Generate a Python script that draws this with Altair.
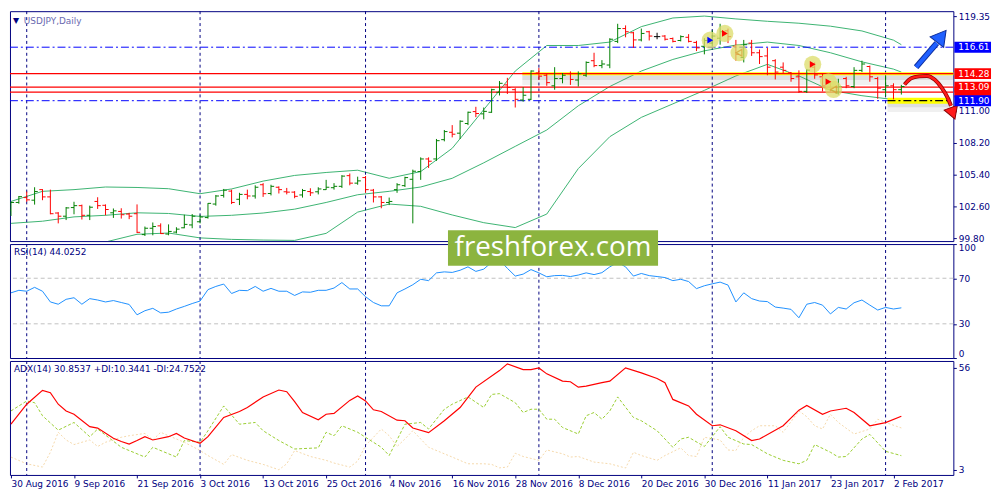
import altair as alt
import pandas as pd

NAVY = "#000080"
FONT = "DejaVu Sans"

# ---------------- data ----------------
dates = pd.bdate_range("2016-08-30", "2017-02-03")  # 114 daily bars
idx = list(range(len(dates)))

date_labels = ["30 Aug 2016", "9 Sep 2016", "21 Sep 2016", "3 Oct 2016", "13 Oct 2016",
               "25 Oct 2016", "4 Nov 2016", "16 Nov 2016", "28 Nov 2016", "8 Dec 2016",
               "20 Dec 2016", "30 Dec 2016", "11 Jan 2017", "23 Jan 2017", "2 Feb 2017"]
label_idx = [0, 8, 16, 24, 32, 40, 48, 56, 64, 72, 80, 88, 96, 104, 112]
grid_idx = [2, 24, 45, 67, 89, 111]
price_ticks = [99.80, 102.60, 105.40, 108.20, 111.00, 119.35]
rsi_ticks = [0, 30, 70, 100]
adx_ticks = [3, 56]

open_ = [102.26, 102.94, 103.37, 103.14, 104.07, 103.43, 102.01, 101.73, 102.49, 102.66,
         101.81, 103.03, 102.69, 102.03, 102.15, 101.92, 101.95, 100.11, 100.67, 100.88,
         100.16, 100.33, 100.71, 100.96, 101.24, 101.61, 102.80, 103.56, 103.94, 103.22,
         103.65, 103.51, 104.50, 103.73, 104.28, 103.88, 103.85, 103.60, 103.90, 103.88,
         104.07, 104.24, 104.36, 105.30, 104.64, 105.13, 104.02, 103.43, 102.94, 104.07,
         104.42, 104.98, 105.66, 106.77, 106.77, 108.47, 109.12, 109.04, 109.89, 110.94,
         110.74, 110.88, 112.64, 113.29, 112.87, 111.96, 112.02, 114.34, 114.14, 113.21,
         113.85, 114.28, 113.72, 114.14, 115.42, 114.99, 115.04, 117.12, 118.25, 117.88,
         117.25, 117.97, 117.54, 117.59, 117.37, 117.20, 117.48, 117.03, 116.69, 116.97,
         117.40, 118.05, 116.69, 115.70, 116.97, 116.12, 115.84, 115.42, 114.85, 114.36,
         114.00, 112.72, 114.85, 114.00, 113.43, 112.58, 113.85, 113.15, 114.57, 114.91,
         113.85, 112.87, 113.21, 112.87]
high = [103.02, 103.51, 103.90, 104.28, 104.11, 104.07, 102.09, 102.54, 103.00, 102.75,
        102.66, 103.40, 102.77, 102.41, 102.43, 102.03, 102.77, 100.82, 101.18, 101.10,
        101.01, 100.76, 101.86, 101.92, 101.86, 102.88, 103.60, 104.13, 104.07, 103.79,
        104.07, 104.45, 104.64, 104.50, 104.36, 104.22, 103.94, 104.13, 104.19, 104.28,
        104.93, 104.64, 105.35, 105.49, 105.21, 105.27, 104.13, 103.51, 103.37, 104.64,
        105.21, 105.83, 106.91, 106.91, 108.53, 109.32, 109.75, 110.17, 110.94, 111.36,
        111.30, 112.95, 113.63, 113.91, 113.00, 113.09, 114.57, 114.79, 114.28, 114.85,
        114.34, 114.48, 114.48, 115.36, 116.12, 115.47, 117.40, 118.67, 118.53, 117.97,
        118.25, 118.05, 117.88, 117.68, 117.46, 117.65, 117.76, 117.17, 117.40, 118.10,
        118.67, 118.25, 117.25, 117.25, 117.25, 116.40, 116.55, 115.55, 115.27, 114.42,
        114.57, 114.70, 115.27, 114.28, 113.57, 113.83, 114.00, 114.85, 115.42, 114.99,
        114.00, 114.14, 113.43, 113.29]
low = [101.75, 102.83, 103.00, 102.75, 103.14, 101.90, 101.10, 101.39, 101.90, 101.44,
       101.39, 102.37, 101.81, 101.58, 101.52, 101.47, 100.25, 99.99, 100.05, 100.16,
       100.05, 100.22, 100.67, 100.67, 101.10, 101.52, 102.66, 103.37, 102.80, 102.71,
       103.22, 103.28, 103.43, 103.56, 103.73, 103.65, 103.31, 103.37, 103.51, 103.65,
       104.05, 104.07, 104.22, 104.45, 104.50, 103.79, 102.94, 102.43, 102.71, 103.79,
       104.30, 101.10, 104.93, 105.98, 106.60, 108.32, 108.67, 108.53, 109.75, 110.45,
       110.26, 110.83, 112.36, 112.49, 111.30, 111.81, 111.96, 113.72, 113.21, 112.87,
       113.43, 113.29, 113.15, 114.00, 114.85, 114.76, 114.76, 116.97, 117.48, 116.55,
       117.12, 117.20, 117.31, 117.20, 117.03, 117.12, 117.03, 116.27, 115.98, 116.69,
       116.83, 116.97, 115.42, 115.27, 115.84, 115.13, 114.14, 113.77, 114.28, 113.57,
       112.58, 112.58, 113.83, 112.72, 112.72, 112.44, 113.00, 113.00, 114.42, 113.57,
       112.07, 112.30, 112.02, 112.44]
close = [102.94, 103.45, 103.17, 103.90, 103.43, 101.95, 101.73, 102.46, 102.66, 101.81,
         102.52, 102.66, 102.32, 102.20, 101.86, 101.73, 100.31, 100.67, 100.82, 100.20,
         100.39, 100.59, 101.01, 101.73, 101.66, 102.86, 103.51, 104.02, 102.94, 103.65,
         103.51, 104.28, 103.71, 104.36, 104.07, 103.85, 103.48, 103.99, 103.79, 104.13,
         104.28, 104.36, 105.26, 104.64, 104.84, 104.07, 103.43, 102.94, 103.03, 104.50,
         105.13, 105.69, 106.77, 106.57, 108.38, 109.18, 108.95, 110.09, 110.88, 110.77,
         110.96, 112.87, 113.43, 113.06, 112.02, 112.38, 114.51, 114.06, 113.49, 113.85,
         114.14, 113.77, 114.28, 115.27, 114.99, 115.13, 117.31, 118.25, 117.97, 117.25,
         117.82, 117.59, 117.54, 117.31, 117.12, 117.54, 117.12, 116.55, 117.20, 117.59,
         117.97, 117.54, 115.98, 116.83, 116.12, 115.78, 114.85, 114.42, 114.57, 113.85,
         112.72, 114.59, 114.17, 113.21, 113.00, 113.15, 113.21, 114.57, 115.13, 114.00,
         113.00, 113.21, 112.87, 113.15]

band_idx = [0, 4, 8, 12, 16, 20, 24, 28, 32, 36, 40, 44, 48, 52, 56, 60, 64, 68, 72, 76,
            80, 84, 88, 92, 96, 100, 104, 108, 112, 113]
bb_upper = [103.03, 103.92, 104.07, 104.30, 104.26, 104.15, 103.71, 104.13, 104.82, 105.32,
            105.58, 105.78, 105.07, 105.66, 107.71, 111.11, 114.51, 116.76, 116.76, 117.06,
            118.42, 119.18, 119.35, 119.10, 118.89, 118.72, 118.46, 118.04, 117.23, 116.83]
bb_mid = [101.10, 101.29, 101.67, 101.81, 102.03, 101.97, 101.71, 101.81, 102.01, 102.35,
          102.94, 103.62, 103.92, 104.30, 105.07, 106.43, 107.88, 109.32, 111.45, 113.15,
          114.51, 115.53, 116.29, 116.80, 117.06, 116.76, 116.12, 115.32, 114.68, 114.42]
bb_lower = [99.12, 99.12, 99.20, 99.46, 100.14, 100.25, 99.82, 99.69, 99.63, 99.60,
            100.22, 102.09, 102.80, 102.60, 101.84, 101.16, 100.73, 101.92, 105.92, 108.73,
            110.43, 111.62, 112.81, 114.08, 115.10, 114.08, 112.81, 112.34, 112.00, 111.91]

rsi = [57.2, 59.4, 58.6, 62.0, 58.6, 49.2, 47.2, 51.5, 52.9, 47.2,
       52.1, 50.9, 49.2, 50.4, 48.7, 47.0, 37.9, 41.5, 43.6, 39.6,
       40.2, 43.0, 45.3, 47.8, 50.0, 60.0, 62.8, 64.9, 56.6, 59.4,
       59.1, 62.8, 58.6, 61.1, 58.6, 58.6, 54.9, 58.0, 57.7, 59.4,
       59.4, 61.4, 66.2, 60.6, 60.6, 53.8, 48.7, 45.8, 45.8, 57.2,
       60.6, 64.3, 69.1, 67.9, 74.7, 75.6, 75.1, 77.0, 80.0, 76.0,
       78.0, 84.0, 86.0, 78.7, 71.9, 73.6, 77.6, 74.7, 71.3, 72.3,
       72.5, 71.5, 72.8, 74.7, 73.2, 74.9, 80.0, 84.0, 80.0, 71.9,
       74.2, 72.3, 71.5, 70.6, 67.9, 69.1, 67.1, 60.9, 63.4, 65.1,
       66.6, 64.0, 49.2, 57.2, 52.1, 50.0, 49.5, 44.7, 43.8, 42.7,
       35.3, 47.2, 48.7, 46.4, 38.7, 44.4, 43.0, 48.5, 50.9, 46.4,
       42.1, 44.4, 43.0, 44.03]

adx_i = [0, 2, 4, 5, 6, 7, 8, 10, 11, 13, 14, 15, 16, 17, 18, 20, 21, 22, 24, 25,
         27, 29, 30, 32, 34, 35, 36, 37, 39, 40, 41, 43, 44, 45, 46, 47, 49, 50, 51, 53,
         55, 57, 59, 62, 63, 65, 66, 67, 68, 70, 71, 72, 73, 75, 76, 78, 80, 82, 83, 84,
         86, 87, 89, 90, 92, 94, 95, 98, 100, 101, 103, 104, 106, 107, 109, 111, 113]
adx_v = [26.7, 37.1, 44.3, 43.1, 37.1, 33.6, 31.9, 25.4, 24.7, 19.4, 17.7, 16.4, 18.2, 20.2, 18.5, 20.2, 21.9, 19.5, 16.8, 20.2,
         30.2, 33.3, 35.4, 40.9, 44.5, 43.6, 38.4, 32.8, 29.0, 31.9, 32.3, 39.1, 41.4, 38.8, 34.2, 33.3, 28.8, 28.5, 24.7, 22.3,
         28.5, 35.4, 46.0, 54.6, 58.1, 55.1, 55.1, 56.0, 52.9, 49.1, 48.8, 46.0, 46.5, 48.3, 49.1, 56.0, 53.4, 50.5, 48.3, 39.6,
         36.2, 31.9, 25.9, 26.4, 23.3, 18.2, 19.0, 25.9, 34.0, 36.5, 31.9, 33.6, 35.0, 32.8, 25.9, 27.5, 30.85]
pdi_i = [0, 2, 3, 4, 6, 8, 10, 11, 14, 17, 18, 21, 22, 24, 25, 27, 29, 31, 32, 34,
         36, 39, 40, 41, 42, 44, 45, 47, 48, 50, 52, 53, 55, 56, 58, 60, 61, 62, 64, 65,
         66, 67, 68, 69, 70, 72, 73, 74, 75, 76, 77, 79, 80, 82, 84, 85, 86, 88, 90, 91,
         93, 94, 96, 98, 100, 101, 102, 104, 105, 106, 108, 109, 111, 113]
pdi_v = [33.6, 38.8, 37.9, 31.1, 23.6, 27.6, 20.2, 24.2, 14.7, 9.6, 14.7, 9.6, 18.2, 17.3, 23.3, 36.2, 26.7, 27.6, 23.3, 18.2,
         13.8, 14.4, 22.5, 20.7, 25.9, 22.5, 19.9, 14.7, 10.4, 26.7, 27.6, 24.2, 34.5, 37.1, 40.9, 35.4, 42.2, 42.6, 37.9, 32.8,
         34.5, 34.5, 29.3, 29.3, 25.0, 21.6, 31.1, 32.8, 29.3, 33.6, 40.9, 30.2, 28.5, 23.3, 14.7, 19.0, 19.9, 15.1, 25.4, 19.9,
         16.4, 16.1, 11.3, 7.9, 6.1, 7.9, 16.1, 12.1, 9.6, 9.9, 19.0, 21.4, 12.6, 10.34]
mdi_i = [0, 2, 4, 5, 6, 7, 8, 10, 11, 12, 14, 15, 17, 18, 19, 20, 22, 24, 25, 27,
         28, 30, 32, 34, 35, 36, 38, 40, 41, 43, 44, 45, 47, 48, 49, 50, 51, 53, 56, 58,
         60, 61, 62, 63, 64, 65, 67, 68, 70, 71, 72, 74, 76, 78, 79, 80, 82, 83, 85, 86,
         87, 88, 90, 91, 92, 93, 94, 95, 97, 98, 100, 101, 102, 103, 104, 105, 107, 109, 110, 111, 113]
mdi_v = [9.6, 6.1, 4.4, 12.1, 22.5, 18.5, 16.1, 18.5, 15.1, 17.3, 19.9, 20.7, 21.9, 18.5, 22.5, 20.7, 17.3, 13.0, 10.4, 5.8,
         10.9, 7.9, 5.8, 3.0, 6.1, 13.0, 9.9, 7.9, 6.5, 4.4, 7.5, 15.6, 24.2, 20.7, 15.1, 19.0, 23.3, 14.7, 9.6, 6.1,
         6.1, 5.8, 4.0, 4.4, 11.6, 9.9, 7.9, 13.3, 11.3, 9.6, 9.9, 7.0, 6.1, 3.9, 12.1, 10.4, 7.9, 10.4, 14.4, 10.4,
         9.9, 19.9, 18.5, 13.3, 13.0, 19.9, 23.3, 25.9, 25.9, 22.5, 33.6, 30.6, 25.9, 24.2, 31.9, 27.6, 21.6, 24.2, 29.3, 27.6, 24.75]

# annotation data (bar index, price)
circle_i = [88.75, 90.6, 92.4, 101.75, 103.75, 104.4]
circle_p = [117.23, 117.82, 116.12, 115.10, 113.57, 112.89]
blue_arrow_i = [114.875, 117.5]
blue_arrow_p = [114.85, 116.97]
red_curve_i = [113.4, 114.25, 115.25, 116.25, 117.25, 118.1, 118.9, 119.3]
red_curve_p = [113.32, 113.87, 114.04, 114.08, 113.74, 113.06, 112.13, 111.45]

# ---------------- layout / scales ----------------
W, H1, H2, H3 = 952, 232, 115, 115
xs = alt.Scale(domain=[-0.125, 119.6], nice=False, zero=False)
ps = alt.Scale(domain=[99.54, 119.78], nice=False, zero=False)
rs = alt.Scale(domain=[0, 100], nice=False, zero=False)
ads = alt.Scale(domain=[0.3, 59.6], nice=False, zero=False)

price_axis = alt.Axis(orient="right", values=price_ticks, format=".2f", tickSize=3, labelPadding=2,
                      domain=False, grid=False, title=None)
rsi_axis = alt.Axis(orient="right", values=rsi_ticks, tickSize=3, labelPadding=2, domain=False,
                    grid=False, title=None, labelFlush=True)
adx_axis = alt.Axis(orient="right", values=adx_ticks, tickSize=3, labelPadding=2, domain=False,
                    grid=False, title=None)
expr = "[" + ",".join(f"'{s}'" for s in date_labels) + "][round(datum.value / 8)]"
x_axis = alt.Axis(values=label_idx, labelExpr=expr, labelAlign="left", tickSize=3, labelPadding=2,
                  domain=False, grid=False, title=None, labelOverlap=False, labelFlush=False)


def PX(f="i"):
    return alt.X(f"{f}:Q", scale=xs, axis=None)


def AX(f="i"):
    return alt.X(f"{f}:Q", scale=xs, axis=x_axis)


def PY(f="p"):
    return alt.Y(f"{f}:Q", scale=ps, axis=price_axis)


def RY(f="v"):
    return alt.Y(f"{f}:Q", scale=rs, axis=rsi_axis)


def DY(f="v"):
    return alt.Y(f"{f}:Q", scale=ads, axis=adx_axis)


vgrid_df = pd.DataFrame({"i": grid_idx})


def vgrid(xenc):
    return alt.Chart(vgrid_df).mark_rule(color=NAVY, strokeDash=[3, 3], strokeWidth=1).encode(x=xenc)


# ---------------- price panel ----------------
ohlc = pd.DataFrame({"i": idx, "o": open_, "h": high, "l": low, "c": close})
ohlc["dir"] = ["up" if c > o else ("down" if c < o else "flat") for o, c in zip(open_, close)]
ohlc["xo"] = ohlc["i"] - 0.4
ohlc["xc"] = ohlc["i"] + 0.4
bar_col = alt.Color("dir:N", scale=alt.Scale(domain=["up", "down", "flat"],
                                              range=["#008000", "#ff0000", "#000000"]), legend=None)

bands = pd.concat([
    pd.DataFrame({"i": band_idx, "p": bb_upper, "band": "upper"}),
    pd.DataFrame({"i": band_idx, "p": bb_mid, "band": "mid"}),
    pd.DataFrame({"i": band_idx, "p": bb_lower, "band": "lower"}),
])
band_layer = alt.Chart(bands).mark_line(color="#3cb371", strokeWidth=1, clip=True).encode(
    x=PX(), y=PY(), detail="band:N")

blue_lv = pd.DataFrame({"p": [116.61, 111.90], "x0": [-0.125, -0.125], "x1": [119.6, 111.25]})
red_lv = pd.DataFrame({"p": [114.28, 113.09, 112.66]})
yel_lv = pd.DataFrame({"p": [114.28, 111.90], "x0": [64.9, 111.25], "x1": [119.6, 119.25], "w": [3, 6]})
blk_lv = pd.DataFrame({"p": [111.90], "x0": [111.25], "x1": [119.25]})

shadow1 = alt.Chart(yel_lv).mark_rule(color="#707070", opacity=0.10, strokeWidth=11, yOffset=6).encode(
    x=PX("x0"), x2="x1:Q", y=PY())
shadow2 = alt.Chart(yel_lv).mark_rule(color="#707070", opacity=0.14, strokeWidth=5, yOffset=4).encode(
    x=PX("x0"), x2="x1:Q", y=PY())
yellow = alt.Chart(yel_lv).mark_rule(color="#ffff00").encode(
    x=PX("x0"), x2="x1:Q", y=PY(), strokeWidth=alt.StrokeWidth("w:Q", scale=None))
blue_rules = alt.Chart(blue_lv).mark_rule(color="#0000ff", strokeDash=[8, 3, 2, 3], strokeWidth=1).encode(
    x=PX("x0"), x2="x1:Q", y=PY())
blk_rule = alt.Chart(blk_lv).mark_rule(color="#000000", strokeDash=[8, 3, 2, 3], strokeWidth=1.3).encode(
    x=PX("x0"), x2="x1:Q", y=PY())
red_rules = alt.Chart(red_lv).mark_rule(color="#ff0000", strokeWidth=1.2).encode(y=PY())

hl = alt.Chart(ohlc).mark_rule(strokeWidth=1, clip=True).encode(x=PX(), y=PY("l"), y2="h:Q", color=bar_col)
otick = alt.Chart(ohlc).mark_rule(strokeWidth=1, clip=True).encode(
    x=PX("xo"), x2="i:Q", y=PY("o"), color=bar_col)
ctick = alt.Chart(ohlc).mark_rule(strokeWidth=1, clip=True).encode(
    x=PX("i"), x2="xc:Q", y=PY("c"), color=bar_col)

circ = pd.DataFrame({"i": circle_i, "p": circle_p,
                     "kind": ["buy", "sell", "exit", "sell", "sell", "exit"]})
circles = alt.Chart(circ).mark_circle(size=300, color="#dcdc6a", opacity=0.75).encode(x=PX(), y=PY())
m_sell = alt.Chart(circ[circ.kind == "sell"]).mark_point(shape="triangle-right", filled=True, size=45,
                                                        color="#ff0000", opacity=1).encode(x=PX(), y=PY())
m_buy = alt.Chart(circ[circ.kind == "buy"]).mark_point(shape="triangle-right", filled=True, size=45,
                                                      color="#0000ff", opacity=1).encode(x=PX(), y=PY())
m_exit = alt.Chart(circ[circ.kind == "exit"]).mark_point(shape="triangle-left", filled=False, size=45,
                                                        color="#d4a030", strokeWidth=1.3).encode(x=PX(), y=PY())

barrow = pd.DataFrame({"i": blue_arrow_i, "p": blue_arrow_p})
blue_shaft_o = alt.Chart(barrow).mark_line(color="#0a2a9a", strokeWidth=6, clip=False).encode(x=PX(), y=PY())
blue_shaft = alt.Chart(barrow).mark_line(color="#2060ff", strokeWidth=4, clip=False).encode(x=PX(), y=PY())
blue_head = alt.Chart(pd.DataFrame({"i": [117.9], "p": [117.40]})).mark_point(
    shape="triangle", filled=True, size=300, angle=38, color="#2060ff", stroke="#0a2a9a",
    strokeWidth=1, opacity=1, clip=False).encode(x=PX(), y=PY())

rcurve = pd.DataFrame({"i": red_curve_i, "p": red_curve_p})
red_curve_o = alt.Chart(rcurve).mark_line(color="#8a0000", strokeWidth=4, interpolate="monotone",
                                          clip=False).encode(x=PX(), y=PY())
red_curve = alt.Chart(rcurve).mark_line(color="#ff1a1a", strokeWidth=2.5, interpolate="monotone",
                                        clip=False).encode(x=PX(), y=PY())
red_head = alt.Chart(pd.DataFrame({"i": [119.45], "p": [110.95]})).mark_point(
    shape="triangle", filled=True, size=200, angle=160, color="#ff1a1a", stroke="#8a0000",
    strokeWidth=1, opacity=1, clip=False).encode(x=PX(), y=PY())

box_hidden = pd.DataFrame({"p": [112.66], "fill": ["#ff0000"]})
box_vis = pd.DataFrame({"p": [116.61, 114.28, 113.09, 111.90],
                        "fill": ["#0000ff", "#ff0000", "#ff0000", "#0000ff"],
                        "t": ["116.61", "114.28", "113.09", "111.90"]})

hid_rect = alt.Chart(box_hidden).mark_rect(clip=False, yOffset=-5.5, y2Offset=5.5).encode(
    x=alt.value(953), x2=alt.value(990), y=PY(), y2="p:Q", fill=alt.Fill("fill:N", scale=None))
vis_rect = alt.Chart(box_vis).mark_rect(clip=False, yOffset=-5.5, y2Offset=5.5).encode(
    x=alt.value(953), x2=alt.value(990), y=PY(), y2="p:Q", fill=alt.Fill("fill:N", scale=None))
vis_txt = alt.Chart(box_vis).mark_text(clip=False, align="left", baseline="middle", font=FONT, fontSize=9,
                                       color="white").encode(x=alt.value(957), y=PY(), text="t:N")

tri = alt.Chart(pd.DataFrame({"t": ["\u25bc"]})).mark_text(align="left", baseline="middle", font=FONT,
                                                          fontSize=8, color=NAVY).encode(
    x=alt.value(3), y=alt.value(10), text="t:N")
ttl = alt.Chart(pd.DataFrame({"t": ["USDJPY,Daily"]})).mark_text(
    align="left", baseline="middle", font=FONT, fontSize=9, color="#6a6ab0").encode(
    x=alt.value(14), y=alt.value(10), text="t:N")

price = alt.layer(
    band_layer, vgrid(PX()), shadow1, shadow2, yellow, blue_rules, blk_rule, red_rules,
    hl, otick, ctick, circles, m_buy, m_sell, m_exit,
    blue_shaft_o, blue_shaft, blue_head, red_curve_o, red_curve, red_head,
    hid_rect, vis_rect, vis_txt, tri, ttl
).properties(width=W, height=H1)

# ---------------- RSI panel ----------------
rsi_df = pd.DataFrame({"i": idx, "v": rsi})
rsi_lv = alt.Chart(pd.DataFrame({"v": [30, 70]})).mark_rule(color="#c0c0c0", strokeDash=[4, 3]).encode(y=RY())
rsi_line = alt.Chart(rsi_df).mark_line(color="#1e90ff", strokeWidth=1).encode(x=PX(), y=RY())
wm_rect = alt.Chart(pd.DataFrame({"a": [0]})).mark_rect(color="#8cb43f", clip=False).encode(
    x=alt.value(442), x2=alt.value(654), y=alt.value(-14), y2=alt.value(22))
wm_text = alt.Chart(pd.DataFrame({"t": ["freshforex.com"]})).mark_text(
    font="Open Sans", fontSize=28, color="white", align="center", baseline="middle", clip=False).encode(
    x=alt.value(548), y=alt.value(4), text="t:N")
rsi_title = alt.Chart(pd.DataFrame({"t": ["RSI(14) 44.0252"]})).mark_text(
    align="left", baseline="middle", font=FONT, fontSize=9, color=NAVY).encode(
    x=alt.value(4), y=alt.value(8), text="t:N")
rsi_panel = alt.layer(rsi_lv, vgrid(PX()), rsi_line, wm_rect, wm_text, rsi_title).properties(width=W, height=H2)

# ---------------- ADX panel ----------------
mdi_line = alt.Chart(pd.DataFrame({"i": mdi_i, "v": mdi_v})).mark_line(
    color="#f5d9ab", strokeWidth=1, strokeDash=[2, 2]).encode(x=AX(), y=DY())
pdi_line = alt.Chart(pd.DataFrame({"i": pdi_i, "v": pdi_v})).mark_line(
    color="#9acd32", strokeWidth=1, strokeDash=[3, 2]).encode(x=AX(), y=DY())
adx_line = alt.Chart(pd.DataFrame({"i": adx_i, "v": adx_v})).mark_line(
    color="#ff0000", strokeWidth=1.2).encode(x=AX(), y=DY())
adx_title = alt.Chart(pd.DataFrame({"t": ["ADX(14) 30.8537 +DI:10.3441 -DI:24.7522"]})).mark_text(
    align="left", baseline="middle", font=FONT, fontSize=9, color=NAVY).encode(
    x=alt.value(4), y=alt.value(8), text="t:N")
adx_panel = alt.layer(mdi_line, vgrid(AX()), pdi_line, adx_line, adx_title).properties(width=W, height=H3)

chart = alt.vconcat(price, rsi_panel, adx_panel, spacing=3, bounds="flush").properties(
    padding={"left": 0, "top": 0, "right": 0, "bottom": 0}, background="white"
).configure_view(stroke=NAVY, strokeWidth=1).configure_axis(
    labelFont=FONT, labelFontSize=9, labelColor=NAVY, tickColor=NAVY)

chart.save("out.html", embed_options={"renderer": "svg", "actions": False})
